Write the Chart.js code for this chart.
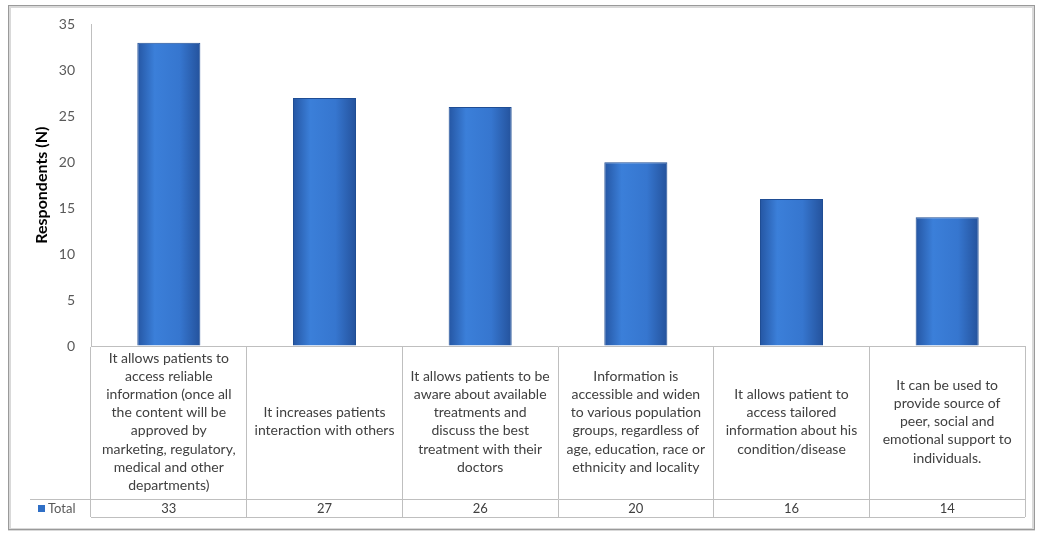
<!DOCTYPE html>
<html>
<head>
<meta charset="utf-8">
<script src="https://cdn.jsdelivr.net/npm/chart.js@4/dist/chart.umd.min.js"></script>
<style>
    html, body { margin: 0; padding: 0; background: #fff; }
    #chart-box { width: 1040px; height: 533px; }
</style>
</head>
<body>
<div id="chart-box"><canvas id="respondents-chart"></canvas></div>
<script>
const categories = [
    ['It allows patients to', 'access reliable', 'information (once all', 'the content will be', 'approved by', 'marketing, regulatory,', 'medical and other', 'departments)'],
    ['It increases patients', 'interaction with others'],
    ['It allows patients to be', 'aware about available', 'treatments and', 'discuss the best', 'treatment with their', 'doctors'],
    ['Information is', 'accessible and widen', 'to various population', 'groups, regardless of', 'age, education, race or', 'ethnicity and locality'],
    ['It allows patient to', 'access tailored', 'information about his', 'condition/disease'],
    ['It can be used to', 'provide source of', 'peer, social and', 'emotional support to', 'individuals.'],
];
const totals = [33, 27, 26, 20, 16, 14];
const seriesName = 'Total';
const yTicks = [0, 5, 10, 15, 20, 25, 30, 35];

const barPct = 0.405;
const lineColor = '#bfbfbf';
const fontFamily = 'Lato, "Open Sans", sans-serif';

// horizontal shading across each bar, built from the x scale positions
function barFill(context) {
    const chart = context.chart;
    const area = chart.chartArea;
    const x = chart.scales.x;
    if (!area || !x) return '#2f6fc6';

    const g = chart.ctx.createLinearGradient(area.left, 0, area.right, 0);
    const span = area.right - area.left;
    const half = (x.width / categories.length) * barPct / 2;
    const f = p => Math.min(1, Math.max(0, (p - area.left) / span));

    categories.forEach((_, i) => {
        const c = x.getPixelForValue(i);
        g.addColorStop(f(c - half), '#2556a3');
        g.addColorStop(f(c - half * 0.45), '#3b7fd9');
        g.addColorStop(f(c + half * 0.35), '#3676cf');
        g.addColorStop(f(c + half), '#24529c');
    });
    return g;
}

const framePlugin = {
    id: 'frame',
    beforeDraw(chart) {
        const ctx = chart.ctx;
        ctx.save();
        ctx.fillStyle = '#fff';
        ctx.fillRect(0, 0, chart.width, chart.height);
        ctx.strokeStyle = '#d9d9d9';
        ctx.lineWidth = 3;
        ctx.strokeRect(9.5, 6.5, chart.width - 16, chart.height - 10);
        ctx.strokeStyle = '#9a9a9a';
        ctx.lineWidth = 1;
        ctx.strokeRect(8.5, 5.5, chart.width - 14, chart.height - 9);
        ctx.restore();
    },
    afterDraw(chart) {
        const ctx = chart.ctx;
        const x2 = chart.scales.x2;
        ctx.save();
        ctx.strokeStyle = lineColor;
        ctx.lineWidth = 1;
        ctx.beginPath();
        ctx.moveTo(30, Math.round(x2.top) + 0.5);
        ctx.lineTo(x2.left, Math.round(x2.top) + 0.5);
        ctx.moveTo(x2.left, Math.round(x2.bottom) + 0.5);
        ctx.lineTo(x2.right, Math.round(x2.bottom) + 0.5);
        ctx.stroke();

        const midY = (x2.top + x2.bottom) / 2;
        ctx.fillStyle = '#2f6fc6';
        ctx.fillRect(38, midY - 3, 7, 7);
        ctx.fillStyle = '#595959';
        ctx.font = '13px ' + fontFamily;
        ctx.textBaseline = 'middle';
        ctx.fillText(seriesName, 48, midY + 1);
        ctx.restore();
    },
};

new Chart(document.querySelector('#respondents-chart'), {
    type: 'bar',
    data: {
        labels: categories,
        datasets: [{
            label: seriesName,
            data: totals,
            backgroundColor: barFill,
            borderColor: '#1f4d94',
            borderWidth: 1,
            categoryPercentage: 1,
            barPercentage: barPct,
        }],
    },
    options: {
        responsive: true,
        maintainAspectRatio: false,
        animation: false,
        layout: { padding: { top: 23, right: 15, bottom: 16, left: 0 } },
        plugins: {
            legend: { display: false },
            tooltip: { enabled: false },
        },
        scales: {
            y: {
                min: 0,
                max: 35,
                afterBuildTicks: scale => { scale.ticks = yTicks.map(v => ({ value: v })); },
                afterFit: scale => { scale.width = 91; },
                grid: { color: 'transparent', drawTicks: false },
                border: { color: lineColor },
                ticks: {
                    padding: 16,
                    color: '#595959',
                    font: { family: fontFamily, size: 14 },
                },
                title: {
                    display: true,
                    text: 'Respondents (N)',
                    color: '#000',
                    font: { family: fontFamily, size: 16, weight: 'bold' },
                    padding: { top: 32, bottom: 0 },
                },
            },
            x: {
                weight: 0,
                afterFit: scale => { scale.height = 153; },
                grid: {
                    offset: true,
                    drawOnChartArea: false,
                    drawTicks: true,
                    tickLength: 153,
                    color: lineColor,
                },
                border: { color: lineColor },
                ticks: {
                    autoSkip: false,
                    maxRotation: 0,
                    crossAlign: 'center',
                    padding: -141,
                    color: '#404040',
                    font: { family: fontFamily, size: 14, lineHeight: 1.3 },
                },
            },
            x2: {
                type: 'category',
                position: 'bottom',
                weight: 1,
                labels: totals.map(String),
                afterFit: scale => { scale.height = 18; },
                grid: {
                    offset: true,
                    drawOnChartArea: false,
                    drawTicks: true,
                    tickLength: 18,
                    color: lineColor,
                },
                border: { color: lineColor },
                ticks: {
                    autoSkip: false,
                    maxRotation: 0,
                    padding: -16,
                    color: '#404040',
                    font: { family: fontFamily, size: 13 },
                },
            },
        },
    },
    plugins: [framePlugin],
});
</script>
</body>
</html>
